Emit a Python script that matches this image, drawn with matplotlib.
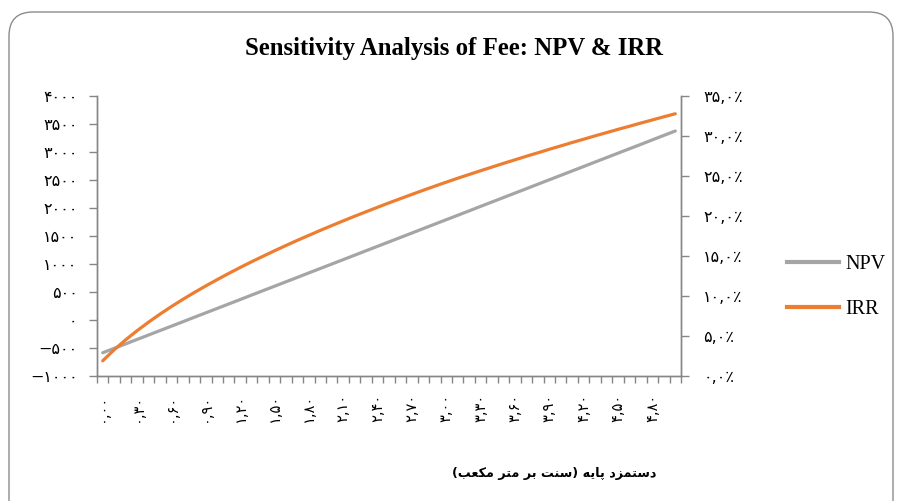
import matplotlib
matplotlib.use("Agg")
import matplotlib.pyplot as plt
from matplotlib.patches import FancyBboxPatch
from matplotlib.transforms import IdentityTransform
from matplotlib.lines import Line2D

# ---------------- data ----------------
fee = [0.0, 0.1, 0.2, 0.3, 0.4, 0.5, 0.6, 0.7, 0.8, 0.9,
       1.0, 1.1, 1.2, 1.3, 1.4, 1.5, 1.6, 1.7, 1.8, 1.9,
       2.0, 2.1, 2.2, 2.3, 2.4, 2.5, 2.6, 2.7, 2.8, 2.9,
       3.0, 3.1, 3.2, 3.3, 3.4, 3.5, 3.6, 3.7, 3.8, 3.9,
       4.0, 4.1, 4.2, 4.3, 4.4, 4.5, 4.6, 4.7, 4.8, 4.9, 5.0]

npv = [-585, -506, -427, -347, -268, -189, -110, -31, 49, 128,
       207, 286, 365, 445, 524, 603, 682, 761, 841, 920,
       999, 1078, 1157, 1237, 1316, 1395, 1474, 1553, 1633, 1712,
       1791, 1870, 1949, 2029, 2108, 2187, 2266, 2345, 2425, 2504,
       2583, 2662, 2741, 2821, 2900, 2979, 3058, 3137, 3217, 3296, 3375]

irr = [1.90, 3.28, 4.52, 5.66, 6.73, 7.73, 8.68, 9.58, 10.44, 11.26,
       12.05, 12.82, 13.56, 14.28, 14.97, 15.65, 16.31, 16.96, 17.58, 18.20,
       18.80, 19.39, 19.97, 20.53, 21.09, 21.64, 22.17, 22.70, 23.22, 23.73,
       24.23, 24.72, 25.19, 25.66, 26.12, 26.58, 27.02, 27.47, 27.90, 28.34,
       28.76, 29.19, 29.60, 30.02, 30.42, 30.83, 31.22, 31.62, 32.01, 32.40, 32.78]

npv_ticks = [-1000, -500, 0, 500, 1000, 1500, 2000, 2500, 3000, 3500, 4000]
irr_ticks = [0, 5, 10, 15, 20, 25, 30, 35]
label_every = 3

title = "Sensitivity Analysis of Fee: NPV & IRR"
series_names = ["NPV", "IRR"]

# x-axis title, logical text "دستمزد پایه (سنت بر متر مکعب)" pre-shaped in visual order
xlabel_visual = ("(" + "\uFE90\uFECC\uFB91\uFEE3" + " " + "\uFEAE\uFE98\uFEE3" + " "
                 + "\uFEAE\uFE91" + " " + "\uFE96\uFEE8\uFEB3" + ")" + " "
                 + "\uFEEA\uFBFE\uFE8E\uFB58" + " "
                 + "\uFEA9\uFEB0\uFEE4\uFE98\uFEB3\uFEA9")

# ---------------- helpers ----------------
FA = str.maketrans("0123456789.-%", "۰۱۲۳۴۵۶۷۸۹,−٪")
def fa(s):
    return s.translate(FA)

GRAY = "#A5A5A5"
ORANGE = "#ED7D31"
AXC = "#868686"

fig = plt.figure(figsize=(9.01, 5.01), dpi=100)
fig.patch.set_facecolor("white")

# rounded frame
frame = FancyBboxPatch((9, -30), 884, 519, boxstyle="round,pad=0,rounding_size=24",
                       transform=IdentityTransform(), facecolor="none",
                       edgecolor="#8C8C8C", linewidth=1.0)
fig.patches.append(frame)

ax = fig.add_axes([97/901, 1-376/501, (681-97)/901, (376-96)/501])
ax2 = ax.twinx()

x = list(range(len(fee)))
ax.plot(x, npv, color=GRAY, lw=2.3, solid_capstyle="round", zorder=3)
ax2.plot(x, irr, color=ORANGE, lw=2.3, solid_capstyle="round", zorder=3)

ax.set_xlim(-0.5, len(fee) - 0.5)
ax.set_ylim(npv_ticks[0], npv_ticks[-1])
ax2.set_ylim(irr_ticks[0], irr_ticks[-1])

for a in (ax, ax2):
    a.spines["top"].set_visible(False)
    for s in ("left", "right", "bottom"):
        a.spines[s].set_color(AXC)
        a.spines[s].set_linewidth(1.0)

# x ticks
ax.set_xticks([i - 0.5 for i in range(len(fee) + 1)], minor=True)
ax.set_xticks(x[::label_every])
ax.set_xticklabels([fa(f"{v:.2f}") for v in fee[::label_every]], rotation=90,
                   fontsize=10.5, family=["DejaVu Sans"])
ax.tick_params(axis="x", which="major", length=0, pad=13)
ax.tick_params(axis="x", which="minor", length=5, color=AXC, width=1)

# left y
ax.set_yticks(npv_ticks)
ax.set_yticklabels([fa(str(v)) for v in npv_ticks], fontsize=11.5, family=["DejaVu Sans"])
ax.tick_params(axis="y", length=6, color=AXC, width=1, pad=8)

# right y
ax2.set_yticks(irr_ticks)
ax2.set_yticklabels([fa(f"{v:.1f}%") for v in irr_ticks], fontsize=11.5, family=["DejaVu Sans"])
ax2.tick_params(axis="y", length=6, color=AXC, width=1, pad=10)

fig.text(454/901, 1-48/501, title, ha="center", va="center",
         fontsize=17.8, fontweight="bold", family=["Liberation Serif"])

fig.text(554/901, 1-473/501, xlabel_visual, ha="center", va="center",
         fontsize=9.2, fontweight="bold", family=["DejaVu Sans"])

handles = [Line2D([0], [0], color=GRAY, lw=3), Line2D([0], [0], color=ORANGE, lw=3)]
leg = fig.legend(handles, series_names, loc="center left",
                 bbox_to_anchor=(769/901, 1-287/501), frameon=False,
                 prop={"family": "Liberation Serif", "size": 14.5},
                 handlelength=2.6, handletextpad=0.3, labelspacing=1.25)

fig.savefig("out.png", dpi=100, facecolor="white")
